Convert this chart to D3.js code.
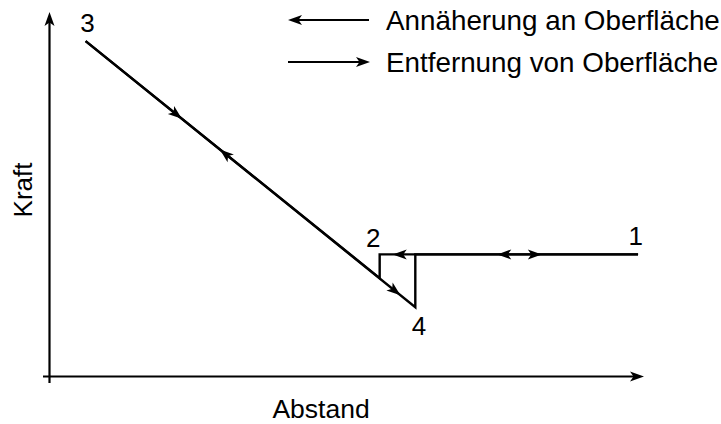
<!DOCTYPE html>
<html lang="de">
<head>
<meta charset="UTF-8">
<script src="https://d3js.org/d3.v7.min.js"></script>
<style>
  body { margin: 0; background: #fff; }
  text { font-family: "Liberation Sans", Arial, sans-serif; fill: #000; }
</style>
</head>
<body>
<svg id="chart" width="721" height="424"></svg>
<script>
// Kraft-Abstand-Kurve (Werte in willkuerlichen Einheiten 0..100)
var approach = [[99, 33.5], [55.5, 33.5], [55.5, 27], [6, 92]];     // 1 -> 2 -> 3
var retract  = [[6, 92], [61.5, 19], [61.5, 33.5], [99, 33.5]];     // 3 -> 4 -> 1
var pointLabels = [
  { name: "1", x: 98.6, y: 36 },
  { name: "2", x: 54.4, y: 35.5 },
  { name: "3", x: 6.3, y: 94.5 },
  { name: "4", x: 62.1, y: 11.4 }
];
// Pfeilspitzen: Lage der Spitze und Richtung (Punkt davor)
var arrows = [
  { tip: [57.7, 33.5], from: [60, 33.5] },
  { tip: [75.3, 33.5], from: [78, 33.5] },
  { tip: [82.8, 33.5], from: [80, 33.5] },
  { tip: [22.2, 70.7], from: [20, 73.6] },
  { tip: [28.6, 62.3], from: [31, 59.1] },
  { tip: [59, 22.3], from: [56, 26.2] }
];
var legendItems = ["Annäherung an Oberfläche", "Entfernung von Oberfläche"];

var svg = d3.select("#chart");

var x = d3.scaleLinear().domain([0, 100]).range([50, 644]);
var y = d3.scaleLinear().domain([0, 100]).range([376.5, 12]);

var line = d3.line()
  .x(function (d) { return x(d[0]); })
  .y(function (d) { return y(d[1]); });

var headPath = "M0,0 L-14,-5 L-10.5,0 L-14,5 Z";

function head(px, py, angle) {
  svg.append("path")
    .attr("d", headPath)
    .attr("transform", "translate(" + px + "," + py + ") rotate(" + angle + ")")
    .attr("fill", "#000");
}

// Achsen
svg.append("line")
  .attr("x1", x(0) - 0.5).attr("y1", 383)
  .attr("x2", x(0) - 0.5).attr("y2", y(100) + 4)
  .attr("stroke", "#000").attr("stroke-width", 2.2);
head(x(0) - 0.5, y(100), -90);

svg.append("line")
  .attr("x1", 43).attr("y1", y(0))
  .attr("x2", x(100) - 4).attr("y2", y(0))
  .attr("stroke", "#000").attr("stroke-width", 2.2);
head(x(100), y(0), 0);

svg.append("text")
  .attr("x", 321).attr("y", 418)
  .attr("text-anchor", "middle")
  .attr("font-size", 26.5)
  .text("Abstand");

svg.append("text")
  .attr("transform", "translate(32,190) rotate(-90)")
  .attr("text-anchor", "middle")
  .attr("font-size", 26)
  .text("Kraft");

// Kurven
[approach, retract].forEach(function (d) {
  svg.append("path")
    .attr("d", line(d))
    .attr("fill", "none")
    .attr("stroke", "#000")
    .attr("stroke-width", 2.4)
    .attr("stroke-linejoin", "miter");
});

arrows.forEach(function (a) {
  var tx = x(a.tip[0]), ty = y(a.tip[1]);
  var ang = Math.atan2(ty - y(a.from[1]), tx - x(a.from[0])) * 180 / Math.PI;
  head(tx, ty, ang);
});

svg.selectAll(".plabel")
  .data(pointLabels)
  .enter().append("text")
  .attr("class", "plabel")
  .attr("x", function (d) { return x(d.x); })
  .attr("y", function (d) { return y(d.y); })
  .attr("text-anchor", "middle")
  .attr("font-size", 26)
  .text(function (d) { return d.name; });

// Legende
var legend = svg.append("g");
legendItems.forEach(function (t, i) {
  var ly = 20 + i * 42;
  legend.append("line")
    .attr("x1", i === 0 ? 292 : 288).attr("y1", ly)
    .attr("x2", i === 0 ? 369 : 366).attr("y2", ly)
    .attr("stroke", "#000").attr("stroke-width", 2.2);
  if (i === 0) head(288, ly, 180); else head(370, ly, 0);
  legend.append("text")
    .attr("x", 386).attr("y", ly + 10)
    .attr("font-size", 27.8)
    .text(t);
});
</script>
</body>
</html>
